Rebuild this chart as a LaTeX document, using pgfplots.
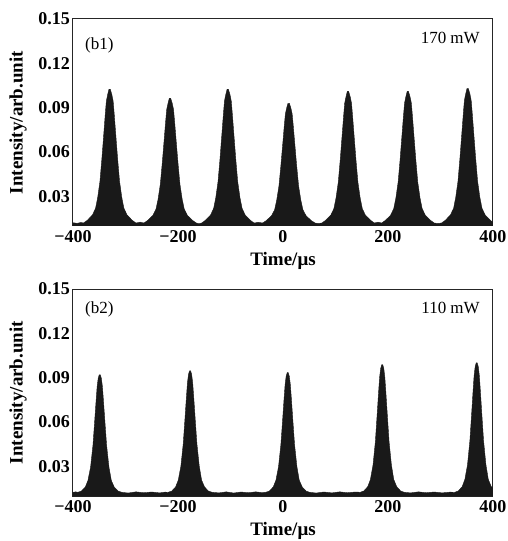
\documentclass[border=0pt]{standalone}
\usepackage{fontspec}
\setmainfont{Liberation Serif}
\usepackage{pgfplots}
\pgfplotsset{compat=1.18}
\usepackage{pgfplotstable}

\pgfplotstableread{
x y
-400 0.0122
-392 0.0118
-385 0.0124
-380 0.0120
-373 0.0138
-363 0.0174
-357 0.0220
-353 0.0292
-348.7 0.0401
-345 0.0554
-341 0.0740
-338.6 0.0853
-336.5 0.0944
-334 0.0989
-331.5 0.1025
-329 0.1025
-326 0.0989
-323.5 0.0944
-321.4 0.0853
-319 0.0740
-315 0.0554
-311.3 0.0401
-307 0.0292
-303 0.0220
-297 0.0174
-287 0.0138
-280 0.0120
-272 0.0126
-265 0.0120
-258 0.0137
-248 0.0171
-242 0.0213
-238 0.0280
-233.7 0.0382
-230 0.0525
-226 0.0698
-223.6 0.0804
-221.5 0.0888
-219 0.0930
-216.5 0.0964
-214 0.0964
-211 0.0930
-208.5 0.0888
-206.4 0.0804
-204 0.0698
-200 0.0525
-196.3 0.0382
-192 0.0280
-188 0.0213
-182 0.0171
-172 0.0137
-165 0.0120
-160 0.0116
-155 0.0120
-148 0.0138
-138 0.0174
-132 0.0220
-128 0.0292
-123.7 0.0401
-120 0.0554
-116 0.0740
-113.6 0.0853
-111.5 0.0944
-109 0.0989
-106.5 0.1025
-104 0.1025
-101 0.0989
-98.5 0.0944
-96.4 0.0853
-94 0.0740
-90 0.0554
-86.3 0.0401
-82 0.0292
-78 0.0220
-72 0.0174
-62 0.0138
-55 0.0120
-47 0.0125
-39 0.0120
-32 0.0136
-22 0.0169
-16 0.0209
-12 0.0274
-7.7 0.0371
-4 0.0509
0 0.0675
2.4 0.0776
4.5 0.0857
7 0.0898
9.5 0.0930
12 0.0930
15 0.0898
17.5 0.0857
19.6 0.0776
22 0.0675
26 0.0509
29.7 0.0371
34 0.0274
38 0.0209
44 0.0169
54 0.0136
61 0.0120
67 0.0117
74 0.0120
81 0.0138
91 0.0173
97 0.0218
101 0.0289
105.3 0.0396
109 0.0547
113 0.0730
115.4 0.0841
117.5 0.0930
120 0.0974
122.5 0.1010
125 0.1010
128 0.0974
130.5 0.0930
132.6 0.0841
135 0.0730
139 0.0547
142.7 0.0396
147 0.0289
151 0.0218
157 0.0173
167 0.0138
174 0.0120
181 0.0126
188 0.0120
195 0.0138
205 0.0173
211 0.0218
215 0.0289
219.3 0.0396
223 0.0547
227 0.0730
229.4 0.0841
231.5 0.0930
234 0.0974
236.5 0.1010
239 0.1010
242 0.0974
244.5 0.0930
246.6 0.0841
249 0.0730
253 0.0547
256.7 0.0396
261 0.0289
265 0.0218
271 0.0173
281 0.0138
288 0.0120
295 0.0117
302 0.0120
309 0.0138
319 0.0175
325 0.0220
329 0.0293
333.3 0.0402
337 0.0557
341 0.0743
343.4 0.0857
345.5 0.0948
348 0.0994
350.5 0.1030
353 0.1030
356 0.0994
358.5 0.0948
360.6 0.0857
363 0.0743
367 0.0557
370.7 0.0402
375 0.0293
379 0.0220
385 0.0175
395 0.0138
400 0.0125
}\topdata

\pgfplotstableread{
x y
-400 0.0125
-395 0.0128
-391 0.0125
-384 0.0133
-376.6 0.0160
-371.5 0.0205
-366.5 0.0295
-362 0.0443
-358.8 0.0602
-356 0.0745
-354 0.0841
-352 0.0896
-350 0.0920
-348 0.0920
-346 0.0896
-344 0.0841
-342 0.0745
-339.2 0.0602
-336 0.0443
-331.5 0.0295
-327 0.0205
-321.4 0.0160
-314 0.0133
-307 0.0125
-295 0.0120
-280 0.0128
-265 0.0122
-250 0.0127
-235 0.0121
-225 0.0126
-219 0.0125
-212 0.0133
-204.6 0.0161
-199.5 0.0207
-194.5 0.0301
-190 0.0454
-186.8 0.0618
-184 0.0766
-182 0.0865
-180 0.0922
-178 0.0947
-176 0.0947
-174 0.0922
-172 0.0865
-170 0.0766
-167.2 0.0618
-164 0.0454
-159.5 0.0301
-155 0.0207
-149.4 0.0161
-142 0.0133
-135 0.0125
-122 0.0121
-108 0.0128
-94 0.0120
-80 0.0127
-66 0.0122
-52 0.0128
-40 0.0123
-33 0.0125
-26 0.0133
-18.6 0.0161
-13.5 0.0206
-8.5 0.0298
-4 0.0449
-0.8 0.0610
2 0.0756
4 0.0853
6 0.0910
8 0.0934
10 0.0934
12 0.0910
14 0.0853
16 0.0756
18.8 0.0610
22 0.0449
26.5 0.0298
31 0.0206
36.6 0.0161
44 0.0133
51 0.0125
63 0.0120
78 0.0127
93 0.0121
108 0.0128
123 0.0122
138 0.0127
147 0.0125
154 0.0134
161.4 0.0163
166.5 0.0211
171.5 0.0310
176 0.0470
179.2 0.0643
182 0.0798
184 0.0902
186 0.0962
188 0.0988
190 0.0988
192 0.0962
194 0.0902
196 0.0798
198.8 0.0643
202 0.0470
206.5 0.0310
211 0.0211
216.6 0.0163
224 0.0134
231 0.0125
243 0.0121
258 0.0128
273 0.0122
288 0.0127
303 0.0121
318 0.0126
327 0.0125
334 0.0134
341.4 0.0164
346.5 0.0213
351.5 0.0312
356 0.0475
359.2 0.0650
362 0.0808
364 0.0913
366 0.0974
368 0.1000
370 0.1000
372 0.0974
374 0.0913
376 0.0808
378.8 0.0650
382 0.0475
386.5 0.0312
391 0.0213
396.6 0.0164
400 0.0150
}\botdata

\pgfplotsset{
  mystyle/.style={
    width=420pt, height=207pt, scale only axis,
    xmin=-400, xmax=400, ymin=0.01, ymax=0.15,
    xtick={-400,-200,0,200,400},
    xticklabels={−400,−200,0,200,400},
    ytick={0.03,0.06,0.09,0.12,0.15},
    yticklabels={0.03,0.06,0.09,0.12,0.15},
    major tick length=0pt,
    axis line style={line width=1pt, black!85},
    tick label style={font=\fontsize{18}{21}\selectfont\bfseries},
    xticklabel style={anchor=north, inner sep=0pt, yshift=-4pt},
    yticklabel style={anchor=east, inner sep=0pt, xshift=-3pt},
    label style={font=\fontsize{19}{22}\selectfont\bfseries},
    xlabel={Time/μs},
    ylabel={Intensity/arb.unit},
    xlabel style={at={(axis description cs:0.5,-0.193)}, anchor=base},
    ylabel style={at={(axis description cs:-0.131,0.5)}, anchor=center},
  }
}

\begin{document}
\begin{tikzpicture}
\useasboundingbox (-73pt,-45pt) rectangle (435pt,496pt);
\begin{axis}[mystyle, at={(0pt,270pt)}]
\addplot[fill=black!90, draw=black!90, line width=0.4pt] table[x=x, y=y] {\topdata} \closedcycle;
\node[anchor=north west, inner sep=0pt, font=\fontsize{17}{20}\selectfont] at (rel axis cs:0.0286,0.91) {(b1)};
\node[anchor=north east, inner sep=0pt, font=\fontsize{17}{20}\selectfont] at (rel axis cs:0.969,0.935) {170 mW};
\end{axis}
\begin{axis}[mystyle, at={(0pt,0pt)}]
\addplot[fill=black!90, draw=black!90, line width=0.4pt] table[x=x, y=y] {\botdata} \closedcycle;
\node[anchor=north west, inner sep=0pt, font=\fontsize{17}{20}\selectfont] at (rel axis cs:0.0286,0.942) {(b2)};
\node[anchor=north east, inner sep=0pt, font=\fontsize{17}{20}\selectfont] at (rel axis cs:0.969,0.937) {110 mW};
\end{axis}
\end{tikzpicture}
\end{document}
